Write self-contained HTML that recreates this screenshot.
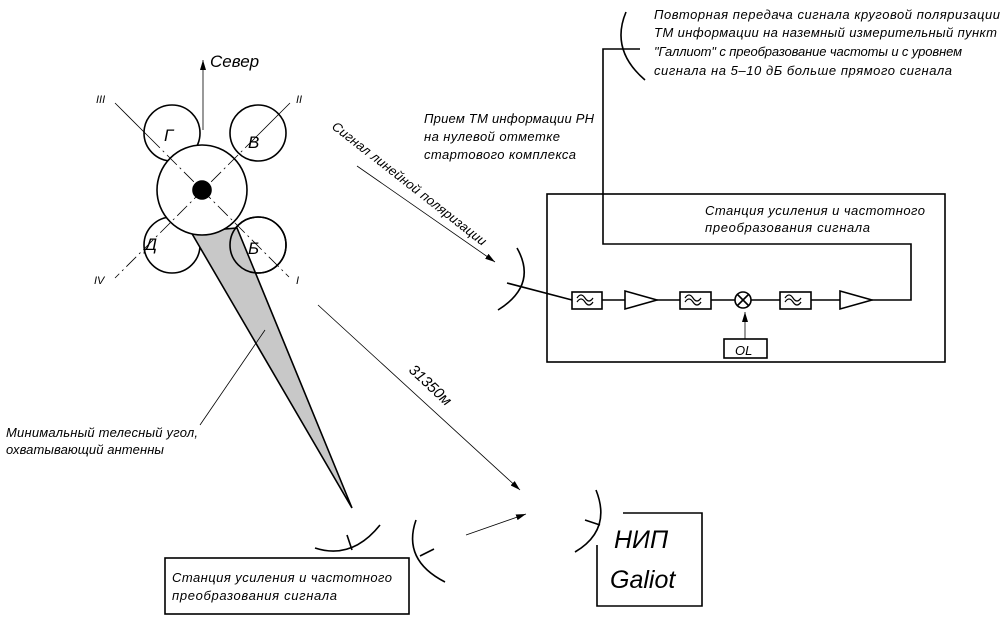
<!DOCTYPE html>
<html><head><meta charset="utf-8"><style>
html,body{margin:0;padding:0;background:#fff;}
svg{display:block;}
text{font-family:"Liberation Sans","DejaVu Sans",sans-serif;font-style:italic;fill:#000;}
</style></head><body>
<svg width="1005" height="625" viewBox="0 0 1005 625" xmlns="http://www.w3.org/2000/svg">
<defs>
<marker id="ar" viewBox="0 0 10 6" refX="10" refY="3" markerWidth="10" markerHeight="6" orient="auto" markerUnits="userSpaceOnUse"><path d="M0,0L10,3L0,6z" fill="#000"/></marker>
</defs>
<g stroke="#000" fill="none" stroke-width="1.6">
<circle cx="172" cy="133" r="28" fill="#fff"/>
<circle cx="258" cy="133" r="28" fill="#fff"/>
<circle cx="172" cy="245" r="28" fill="#fff"/>
<circle cx="258" cy="245" r="28" fill="#fff"/>
<polygon points="191,232 237,228 352,508" fill="#c8c8c8"/>
<circle cx="258" cy="245" r="28"/>
<circle cx="202" cy="190" r="45" fill="#fff"/>
<circle cx="202" cy="190" r="9" fill="#000"/>
</g>
<g stroke="#000" stroke-width="0.8" fill="none">
<line x1="115" y1="103" x2="150" y2="138"/>
<line x1="150" y1="138" x2="289" y2="277" stroke-dasharray="14,4,2,4"/>
<line x1="290" y1="103" x2="255" y2="138"/>
<line x1="255" y1="138" x2="115" y2="278" stroke-dasharray="14,4,2,4"/>
<line x1="203" y1="130" x2="203" y2="60" marker-end="url(#ar)"/>
<line x1="200" y1="425" x2="265" y2="330"/>
<line x1="318" y1="305" x2="520" y2="490" marker-end="url(#ar)"/>
<line x1="466" y1="535" x2="526" y2="514" marker-end="url(#ar)"/>
<line x1="357" y1="166" x2="495" y2="262" marker-end="url(#ar)"/>
<line x1="745" y1="339" x2="745" y2="312" marker-end="url(#ar)"/>
</g>
<g font-size="13">
<text x="210" y="67" font-size="17">Север</text>
<text x="96" y="103" font-size="11">III</text>
<text x="296" y="103" font-size="11">II</text>
<text x="94" y="284" font-size="11">IV</text>
<text x="296" y="284" font-size="11">I</text>
<text x="164" y="141" font-size="17">Г</text>
<text x="248" y="148" font-size="17">В</text>
<text x="145" y="250" font-size="17">Д</text>
<text x="248" y="254" font-size="17">Б</text>
<text x="6" y="437" textLength="192">Минимальный телесный угол,</text>
<text x="6" y="454" textLength="158">охватывающий антенны</text>
<text x="0" y="0" font-size="15" transform="translate(408,371) rotate(43)">31350м</text>
<text x="0" y="0" transform="translate(331,128) rotate(38)" textLength="192">Сигнал линейной поляризации</text>
<text x="424" y="123" textLength="170">Прием ТМ информации РН</text>
<text x="424" y="141" textLength="136">на нулевой отметке</text>
<text x="424" y="159" textLength="152">стартового комплекса</text>
<text x="654" y="19" textLength="346">Повторная передача сигнала круговой поляризации</text>
<text x="654" y="37" textLength="343">ТМ информации на наземный измерительный пункт</text>
<text x="654" y="56" textLength="308">"Галлиот" с преобразование частоты и с уровнем</text>
<text x="654" y="75" textLength="298">сигнала на 5–10 дБ больше прямого сигнала</text>
<text x="705" y="215" textLength="220">Станция усиления и частотного</text>
<text x="705" y="232" textLength="165">преобразования сигнала</text>
<text x="172" y="582" textLength="220">Станция усиления и частотного</text>
<text x="172" y="600" textLength="165">преобразования сигнала</text>
<text x="735" y="355" font-size="13">OL</text>
<text x="614" y="548" font-size="25">НИП</text>
<text x="610" y="588" font-size="25">Galiot</text>
</g>
<g stroke="#000" fill="none" stroke-width="1.6">
<rect x="547" y="194" width="398" height="168"/>
<polyline points="640,49 603,49 603,244 911,244 911,300 872,300"/>
<path d="M626,12 Q610,50 645,80"/>
<path d="M517,248 Q538,285 498,310"/>
<polyline points="507,283 572,300"/>
<line x1="602" y1="300" x2="625" y2="300"/>
<line x1="657" y1="300" x2="680" y2="300"/>
<line x1="711" y1="300" x2="735" y2="300"/>
<line x1="751" y1="300" x2="780" y2="300"/>
<line x1="811" y1="300" x2="840" y2="300"/>
<rect x="572" y="292" width="30" height="17"/>
<rect x="680" y="292" width="31" height="17"/>
<rect x="780" y="292" width="31" height="17"/>
<polygon points="625,291 657,300 625,309"/>
<polygon points="840,291 872,300 840,309"/>
<circle cx="743" cy="300" r="8"/>
<line x1="737" y1="294" x2="749" y2="306"/><line x1="749" y1="294" x2="737" y2="306"/>
<rect x="724" y="339" width="43" height="19"/>
<path d="M577,302 q4,-6 8,0 q4,6 8,0 M577,298 q4,-6 8,0 q4,6 8,0 M685,302 q4,-6 8,0 q4,6 8,0 M685,298 q4,-6 8,0 q4,6 8,0 M785,302 q4,-6 8,0 q4,6 8,0 M785,298 q4,-6 8,0 q4,6 8,0" stroke-width="1.2"/>
<rect x="165" y="558" width="244" height="56"/>
<path d="M315,548 Q352,560 380,525"/>
<line x1="347" y1="535" x2="352" y2="550"/>
<path d="M416,520 Q402,560 445,582"/>
<line x1="420" y1="556" x2="434" y2="549"/>
<path d="M596,490 Q612,530 575,552"/>
<line x1="585" y1="520" x2="600" y2="525"/>
<polyline points="623,513 702,513 702,606 597,606 597,545"/>
</g>
</svg>
</body></html>
